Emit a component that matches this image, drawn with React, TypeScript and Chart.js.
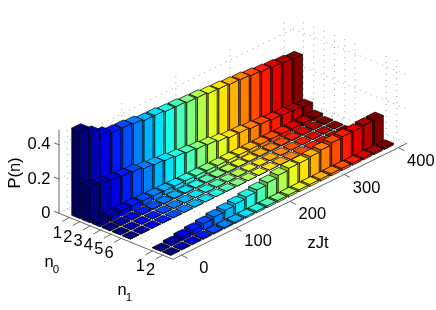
import React, { useEffect, useRef } from "react";
import { Chart, registerables } from "chart.js";

Chart.register(...registerables);

const times = [0, 20, 40, 60, 80, 100, 120, 140, 160, 180, 200, 220, 240, 260, 280, 300, 320, 340, 360, 380, 400];
const rowPositions = [1.3, 2.27, 3.24, 4.22, 5.2, 6.17, 9.09, 10.06];
const n0Row1 = [0.51, 0.466, 0.43, 0.411, 0.408, 0.4, 0.388, 0.387, 0.379, 0.377, 0.37, 0.368, 0.36, 0.357, 0.351, 0.348, 0.341, 0.333, 0.328, 0.322, 0.314];
const n0Row2 = [0.208, 0.196, 0.188, 0.181, 0.174, 0.16, 0.153, 0.146, 0.138, 0.13, 0.122, 0.116, 0.105, 0.095, 0.093, 0.086, 0.082, 0.076, 0.072, 0.065, 0.058];
const n0Row3 = [0.024, 0.03, 0.031, 0.03, 0.028, 0.026, 0.024, 0.022, 0.021, 0.02, 0.019, 0.018, 0.018, 0.018, 0.018, 0.018, 0.018, 0.018, 0.018, 0.018, 0.018];
const n0Row4 = [0.005, 0.005, 0.005, 0.005, 0.005, 0.005, 0.005, 0.005, 0.005, 0.005, 0.005, 0.005, 0.005, 0.005, 0.005, 0.005, 0.005, 0.005, 0.005, 0.005, 0.005];
const n0Row5 = [0.002, 0.002, 0.002, 0.002, 0.002, 0.002, 0.002, 0.002, 0.002, 0.002, 0.002, 0.002, 0.002, 0.002, 0.002, 0.002, 0.002, 0.002, 0.002, 0.002, 0.002];
const n0Row6 = [0.001, 0.001, 0.001, 0.001, 0.001, 0.001, 0.001, 0.001, 0.001, 0.001, 0.001, 0.001, 0.001, 0.001, 0.001, 0.001, 0.001, 0.001, 0.001, 0.001, 0.001];
const n1Row1 = [0.003, 0.012, 0.022, 0.029, 0.037, 0.046, 0.053, 0.061, 0.07, 0.08, 0.092, 0.104, 0.114, 0.114, 0.12, 0.128, 0.139, 0.144, 0.143, 0.148, 0.149];
const n1Row2 = [0.002, 0.003, 0.004, 0.005, 0.007, 0.007, 0.008, 0.009, 0.01, 0.011, 0.011, 0.012, 0.012, 0.012, 0.012, 0.013, 0.013, 0.012, 0.012, 0.011, 0.011];
const allRows = [n0Row1, n0Row2, n0Row3, n0Row4, n0Row5, n0Row6, n1Row1, n1Row2];

const zTicks = [0, 0.2, 0.4];
const zTickLabels = ["0", "0.2", "0.4"];
const tTicks = [0, 100, 200, 300, 400];
const nTicks = [1, 2, 3, 4, 5, 6, 9, 10];
const nTickLabels = ["1", "2", "3", "4", "5", "6", "1", "2"];

const T_MIN = -15.5, T_MAX = 416, N_MAX = 11, Z_MAX = 0.488;
const FONT = '"Liberation Sans", Arial, sans-serif';

function jet(f: number): [number, number, number] {
  const v = 4 * f;
  const c = (x: number) => Math.max(0, Math.min(1, x));
  return [c(Math.min(v - 1.5, -v + 4.5)), c(Math.min(v - 0.5, -v + 3.5)), c(Math.min(v + 0.5, -v + 2.5))];
}
const rgb = (c: number[], k = 1) => `rgb(${c.map((x) => Math.round(x * 255 * k)).join(",")})`;

const boxPlugin = {
  id: "box3d",
  afterDraw(chart: any) {
    const { ctx, scales } = chart;
    const st = scales.x, sn = scales.n, sz = scales.y;
    const O = { x: 59, y: 213.3 };
    const ax = { x: 234, y: -116 };
    const an = { x: 114, y: 46 };
    const H = 83.5;
    const P = (t: number, n: number, z: number) => {
      const ft = (st.getPixelForValue(t) - st.left) / st.width;
      const fn = (sn.getPixelForValue(n) - sn.left) / sn.width;
      const fz = (sz.bottom - sz.getPixelForValue(z)) / sz.height;
      return [O.x + ft * ax.x + fn * an.x, O.y + ft * ax.y + fn * an.y - fz * H];
    };
    const line = (a: number[], b: number[]) => {
      ctx.beginPath();
      ctx.moveTo(a[0], a[1]);
      ctx.lineTo(b[0], b[1]);
      ctx.stroke();
    };
    ctx.save();
    // grid
    ctx.strokeStyle = "#8a8a8a";
    ctx.lineWidth = 0.8;
    ctx.setLineDash([1, 5]);
    for (const t of tTicks) {
      line(P(t, 0, 0), P(t, 0, Z_MAX));
      line(P(t, 0, 0), P(t, N_MAX, 0));
    }
    for (const n of nTicks) {
      line(P(T_MAX, n, 0), P(T_MAX, n, Z_MAX));
      line(P(T_MIN, n, 0), P(T_MAX, n, 0));
    }
    for (const z of zTicks) {
      line(P(T_MIN, 0, z), P(T_MAX, 0, z));
      line(P(T_MAX, 0, z), P(T_MAX, N_MAX, z));
    }
    ctx.setLineDash([]);
    // axes
    ctx.strokeStyle = "#666";
    ctx.lineWidth = 1;
    line(P(T_MIN, 0, 0), P(T_MIN, 0, Z_MAX));
    line(P(T_MIN, 0, 0), P(T_MIN, N_MAX, 0));
    line(P(T_MIN, N_MAX, 0), P(T_MAX, N_MAX, 0));
    for (const z of zTicks) {
      const p = P(T_MIN, 0, z);
      line(p, [p[0] - 5, p[1] - 2]);
    }
    for (const n of nTicks) {
      const p = P(T_MIN, n, 0);
      line(p, [p[0] - 7, p[1] + 4]);
    }
    for (const t of tTicks) {
      const p = P(t, N_MAX, 0);
      line(p, [p[0] + 6, p[1] + 3]);
    }
    // tick labels
    ctx.fillStyle = "#000";
    ctx.font = `16.5px ${FONT}`;
    ctx.textBaseline = "middle";
    ctx.textAlign = "right";
    zTicks.forEach((z, i) => {
      const p = P(T_MIN, 0, z);
      ctx.fillText(zTickLabels[i], p[0] - 8.5, p[1]);
    });
    ctx.textAlign = "center";
    nTicks.forEach((n, i) => {
      const p = P(T_MIN, n, 0);
      ctx.fillText(nTickLabels[i], p[0] - 12, p[1] + 15.5);
    });
    tTicks.forEach((t) => {
      const p = P(t, N_MAX, 0);
      ctx.fillText(String(t), p[0] + 22.5, p[1] + 13.5);
    });
    // axis titles
    ctx.fillText("zJt", 318, 243);
    ctx.fillText("n", 49, 262);
    ctx.fillText("n", 122, 290);
    ctx.font = `11.5px ${FONT}`;
    ctx.fillText("0", 56, 270);
    ctx.fillText("1", 129, 298);
    ctx.save();
    ctx.font = `16.5px ${FONT}`;
    ctx.translate(15, 173);
    ctx.rotate(-Math.PI / 2);
    ctx.fillText("P(n)", 0, 0);
    ctx.restore();
    // bars, back to front
    ctx.strokeStyle = "#000";
    ctx.lineWidth = 0.7;
    ctx.lineJoin = "round";
    const poly = (pts: number[][], fill: string) => {
      ctx.beginPath();
      pts.forEach((p, i) => (i ? ctx.lineTo(p[0], p[1]) : ctx.moveTo(p[0], p[1])));
      ctx.closePath();
      ctx.fillStyle = fill;
      ctx.fill();
      ctx.stroke();
    };
    chart.data.datasets.forEach((ds: any) => {
      const n = ds.rowPosition;
      for (let i = ds.data.length - 1; i >= 0; i--) {
        const { x, y: z } = ds.data[i];
        const t = x * 0.985 - 1;
        const base = jet(i / (ds.data.length - 1));
        const ht = 8.2, hn = 0.4;
        const a0 = P(t - ht, n + hn, 0), b0 = P(t + ht, n + hn, 0), c0 = P(t - ht, n - hn, 0);
        const a1 = P(t - ht, n + hn, z), b1 = P(t + ht, n + hn, z), c1 = P(t - ht, n - hn, z), d1 = P(t + ht, n - hn, z);
        poly([c0, a0, a1, c1], rgb(base, 0.7));
        poly([a0, b0, b1, a1], rgb(base));
        poly([a1, b1, d1, c1], rgb(base));
      }
    });
    ctx.restore();
  },
};

export default function App() {
  const ref = useRef<HTMLCanvasElement>(null);
  useEffect(() => {
    const chart = new Chart(ref.current as HTMLCanvasElement, {
      type: "scatter",
      data: {
        datasets: allRows.map((row, r) => ({
          label: `row ${rowPositions[r]}`,
          rowPosition: rowPositions[r],
          data: times.map((t, i) => ({ x: t, y: row[i] })),
          pointRadius: 0,
          showLine: false,
          xAxisID: "x",
          yAxisID: "y",
        })) as any,
      },
      options: {
        animation: false,
        responsive: false,
        layout: { padding: 0 },
        plugins: { legend: { display: false }, tooltip: { enabled: false } },
        scales: {
          x: { type: "linear", min: T_MIN, max: T_MAX, display: false },
          n: { type: "linear", axis: "x", min: 0, max: N_MAX, display: false },
          y: { type: "linear", min: 0, max: Z_MAX, display: false },
        },
      },
      plugins: [boxPlugin],
    } as any);
    return () => chart.destroy();
  }, []);
  return (
    <div style={{ position: "absolute", left: 0, top: 0, width: 436, height: 310, background: "#fff" }}>
      <canvas ref={ref} width={436} height={310} style={{ display: "block" }} />
    </div>
  );
}
